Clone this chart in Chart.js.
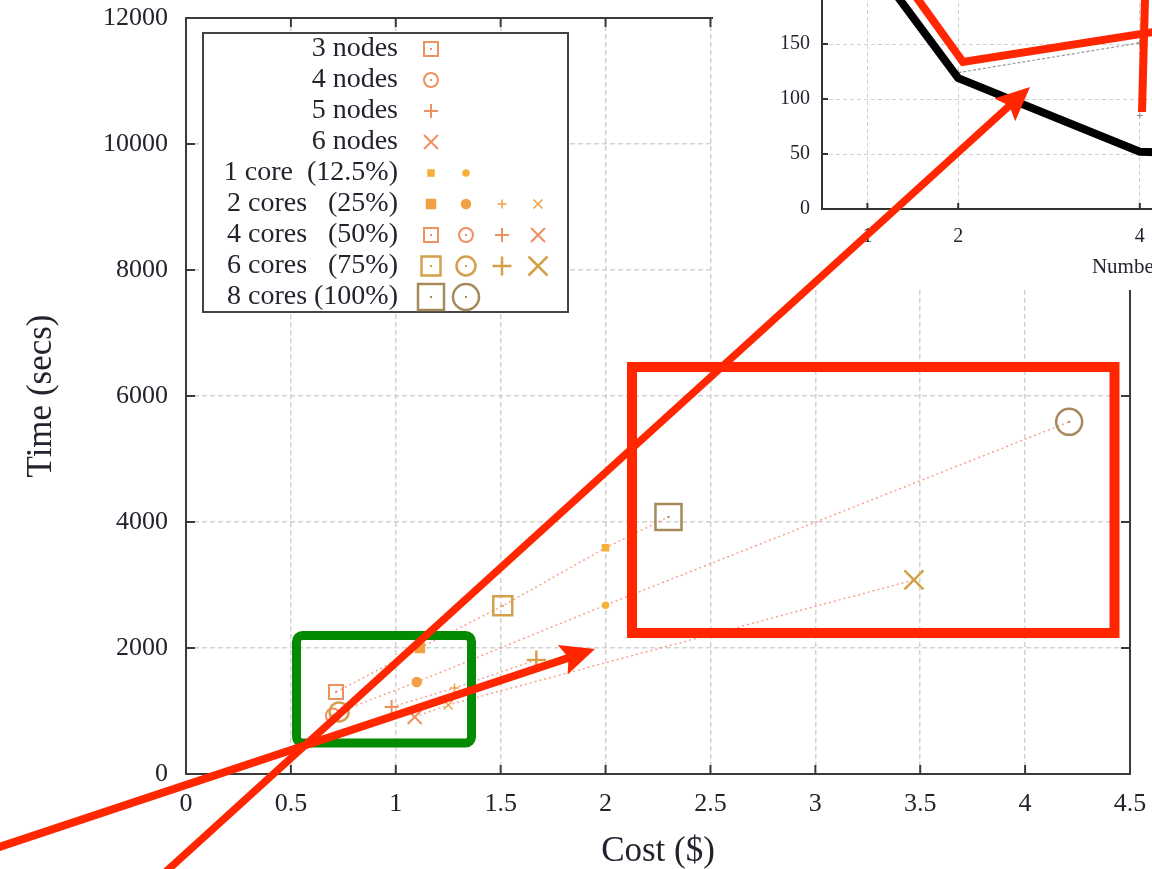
<!DOCTYPE html>
<html>
<head>
<meta charset="utf-8">
<script src="https://cdn.jsdelivr.net/npm/chart.js@4/dist/chart.umd.min.js"></script>
<style>
  html, body { margin: 0; padding: 0; background: #fff; }
  #stage { position: relative; width: 1152px; height: 869px; overflow: hidden; background: #fff; }
  #main { position: absolute; left: 0; top: 0; }
  #inset { position: absolute; left: 713px; top: -60px; background: #fff; }
  #marks { position: absolute; left: 0; top: 0; pointer-events: none; }
</style>
</head>
<body>
<div id="stage">
  <canvas id="main" width="1152" height="869"></canvas>
  <canvas id="inset" width="800" height="350"></canvas>
  <canvas id="marks" width="1152" height="869"></canvas>
</div>
<script>
// ---------- main plot: cost vs. run time, one series per node count ----------
const costTicks = [0, 0.5, 1, 1.5, 2, 2.5, 3, 3.5, 4, 4.5];
const timeTicks = [0, 2000, 4000, 6000, 8000, 10000, 12000];

const nodeCounts = [3, 4, 5, 6];
const coreCounts = [1, 2, 4, 6, 8];
const coreLabels = ['1 core  (12.5%)', '2 cores   (25%)', '4 cores   (50%)', '6 cores   (75%)', '8 cores (100%)'];

const nodes3Cost  = [0.715, 1.115, 1.51, 2.0, 2.30];
const nodes3Time  = [1300, 2000, 2670, 3590, 4080];
const nodes3Cores = [4, 2, 6, 1, 8];

const nodes4Cost  = [0.70, 0.73, 1.10, 2.0, 4.21];
const nodes4Time  = [930, 985, 1460, 2680, 5590];
const nodes4Cores = [4, 6, 2, 1, 8];

const nodes5Cost  = [0.98, 1.28, 1.67];
const nodes5Time  = [1063, 1365, 1810];
const nodes5Cores = [4, 2, 6];

const nodes6Cost  = [1.09, 1.25, 3.47];
const nodes6Time  = [905, 1095, 3080];
const nodes6Cores = [4, 2, 6];

// ---------- inset: time vs. number of cores ----------
const insetTicksX = [1, 2, 4, 6, 8];
const insetTicksY = [0, 50, 100, 150, 200];
const insetCoresA = [1, 2, 4, 6];
const insetTimeA  = [230, 119, 52, 47];
const insetCoresB = [2, 4];
const insetTimeB  = [124, 151];
const insetCoresC = [4];
const insetTimeC  = [85];

// ---------- marker styling ----------
const shapeOf = { 3: 'rect', 4: 'circle', 5: 'cross', 6: 'crossRot' };
const coreColor = { 1: '#f5b03a', 2: '#f1a044', 4: '#ee9160', 6: '#d5a04c', 8: '#a78a5c' };
const coreSize = { 1: 6, 2: 9, 4: 14, 6: 19, 8: 26 };
const shapeFactor = { rect: 1 / Math.SQRT2, circle: 0.5, cross: 0.5, crossRot: 1 / Math.SQRT2 };

const seriesCores = { 3: nodes3Cores, 4: nodes4Cores, 5: nodes5Cores, 6: nodes6Cores };

function markerRadius(style, cores) { return coreSize[cores] * shapeFactor[style]; }
function markerWidth(cores) { return cores <= 2 ? 1.5 : (cores >= 6 ? 2.5 : 2); }
function markerFill(cores) { return cores <= 2 ? coreColor[cores] : 'rgba(0,0,0,0)'; }

function series(n, cost, time, cores) {
  const pts = cost.map((c, i) => ({ x: c, y: time[i], cores: cores[i] })).sort((a, b) => a.x - b.x);
  const st = shapeOf[n];
  const rad = ctx => ctx.raw ? markerRadius(st, ctx.raw.cores) : 5;
  return {
    label: n + ' nodes',
    data: pts,
    showLine: true,
    borderColor: 'rgba(244,132,100,0.75)',
    borderWidth: 1.5,
    borderDash: [2, 3],
    pointStyle: st,
    pointRadius: rad,
    pointHoverRadius: rad,
    pointBorderColor: ctx => ctx.raw ? coreColor[ctx.raw.cores] : '#e90',
    pointBackgroundColor: ctx => ctx.raw ? markerFill(ctx.raw.cores) : 'rgba(0,0,0,0)',
    pointBorderWidth: ctx => ctx.raw ? markerWidth(ctx.raw.cores) : 2
  };
}

function drawMarker(ctx, n, c, x, y) {
  const st = shapeOf[n];
  ctx.save();
  ctx.strokeStyle = coreColor[c];
  ctx.fillStyle = markerFill(c);
  ctx.lineWidth = markerWidth(c);
  Chart.helpers.drawPoint(ctx, { pointStyle: st, radius: markerRadius(st, c), borderWidth: markerWidth(c), rotation: 0 }, x, y);
  if ((st === 'rect' || st === 'circle') && c >= 4) {
    ctx.fillStyle = coreColor[c];
    ctx.fillRect(x - 1, y - 1, 2, 2);
  }
  ctx.restore();
}

// scales keep their boxes exactly as fitted, with no extra edge padding
function noEdgePadding(s) {
  s.paddingTop = 0; s.paddingBottom = 0; s.paddingLeft = 0; s.paddingRight = 0;
}

// border box with inward tick marks on all four sides
const framePlugin = {
  id: 'frame',
  beforeDatasetsDraw(chart, args, o) {
    const { ctx, chartArea: a, scales } = chart;
    ctx.save();
    ctx.strokeStyle = o.color;
    ctx.lineWidth = o.width;
    ctx.strokeRect(a.left, a.top, a.right - a.left, a.bottom - a.top);
    ctx.beginPath();
    scales.x.ticks.forEach(t => {
      const px = scales.x.getPixelForValue(t.value);
      ctx.moveTo(px, a.bottom); ctx.lineTo(px, a.bottom - o.tick);
      ctx.moveTo(px, a.top); ctx.lineTo(px, a.top + o.tick);
    });
    scales.y.ticks.forEach(t => {
      const py = scales.y.getPixelForValue(t.value);
      ctx.moveTo(a.left, py); ctx.lineTo(a.left + o.tick, py);
      ctx.moveTo(a.right, py); ctx.lineTo(a.right - o.tick, py);
    });
    ctx.stroke();
    ctx.restore();
  }
};

// centre dots of the open squares and circles
const dotPlugin = {
  id: 'centreDots',
  afterDatasetsDraw(chart) {
    const ctx = chart.ctx;
    chart.data.datasets.forEach((ds, di) => {
      if (ds.pointStyle !== 'rect' && ds.pointStyle !== 'circle') return;
      chart.getDatasetMeta(di).data.forEach((el, i) => {
        const c = ds.data[i].cores;
        if (c < 4) return;
        ctx.fillStyle = coreColor[c];
        ctx.fillRect(el.x - 1, el.y - 1, 2, 2);
      });
    });
  }
};

// key box: node shapes, then core-count sizes
const keyPlugin = {
  id: 'keyBox',
  afterDatasetsDraw(chart, args, o) {
    const { ctx, chartArea: a } = chart;
    const bx = a.left + o.left, by = a.top + o.top;
    ctx.save();
    ctx.fillStyle = '#fff';
    ctx.fillRect(bx, by, o.width, o.height);
    ctx.strokeStyle = '#444';
    ctx.lineWidth = 2;
    ctx.strokeRect(bx, by, o.width, o.height);
    const rows = [];
    nodeCounts.forEach(n => rows.push({ text: n + ' nodes', marks: [{ n, c: 4, col: 0 }] }));
    coreCounts.forEach((c, i) => rows.push({
      text: coreLabels[i],
      marks: nodeCounts.filter(n => seriesCores[n].includes(c)).map(n => ({ n, c, col: nodeCounts.indexOf(n) }))
    }));
    ctx.font = o.font;
    ctx.textAlign = 'right';
    ctx.textBaseline = 'middle';
    rows.forEach((r, i) => {
      const yy = a.top + o.firstRow + i * o.rowStep;
      ctx.fillStyle = '#23232e';
      ctx.fillText(r.text, a.left + o.textRight, yy);
      r.marks.forEach(m => drawMarker(ctx, m.n, m.c, a.left + o.cols[m.col], yy));
    });
    ctx.restore();
  }
};

const serif = 'Liberation Serif';
const gridStyle = { color: '#d2d2d2', lineWidth: 1.5, drawTicks: false };

new Chart(document.getElementById('main'), {
  type: 'scatter',
  data: {
    datasets: [
      series(3, nodes3Cost, nodes3Time, nodes3Cores),
      series(4, nodes4Cost, nodes4Time, nodes4Cores),
      series(5, nodes5Cost, nodes5Time, nodes5Cores),
      series(6, nodes6Cost, nodes6Time, nodes6Cores)
    ]
  },
  plugins: [framePlugin, dotPlugin, keyPlugin],
  options: {
    responsive: false,
    animation: false,
    events: [],
    layout: { autoPadding: false, padding: { top: 18, right: 22, left: 0, bottom: 0 } },
    plugins: {
      legend: { display: false },
      tooltip: { enabled: false },
      frame: { color: '#3a3a3a', width: 2, tick: 9 },
      keyBox: {
        left: 17, top: 15, width: 365, height: 279,
        font: '28px "' + serif + '"',
        textRight: 212, firstRow: 31, rowStep: 31,
        cols: [245, 280, 316, 352]
      }
    },
    scales: {
      x: {
        type: 'linear', min: 0, max: 4.5,
        afterBuildTicks: s => { s.ticks = costTicks.map(v => ({ value: v })); },
        afterFit: s => { s.height = 95; noEdgePadding(s); },
        ticks: { font: { family: serif, size: 26 }, color: '#23232e', padding: 15, maxRotation: 0, callback: v => String(v) },
        grid: gridStyle,
        border: { display: false, dash: [5, 3] },
        title: { display: true, text: 'Cost ($)', color: '#23232e', font: { family: serif, size: 35, lineHeight: 1 }, padding: { top: 0, bottom: 0 } }
      },
      y: {
        type: 'linear', min: 0, max: 12000,
        afterBuildTicks: s => { s.ticks = timeTicks.map(v => ({ value: v })); },
        afterFit: s => { s.width = 186; noEdgePadding(s); },
        ticks: { font: { family: serif, size: 26 }, color: '#23232e', padding: 18, callback: v => String(v) },
        grid: gridStyle,
        border: { display: false, dash: [5, 3] },
        title: { display: true, text: 'Time (secs)', color: '#23232e', font: { family: serif, size: 35, lineHeight: 1 }, padding: { top: 24, bottom: 0 } }
      }
    }
  }
});

new Chart(document.getElementById('inset'), {
  type: 'scatter',
  data: {
    datasets: [
      {
        data: insetCoresA.map((x, i) => ({ x, y: insetTimeA[i] })),
        showLine: true, borderColor: '#000', borderWidth: 8,
        borderJoinStyle: 'round', borderCapStyle: 'round', pointRadius: 0
      },
      {
        data: insetCoresB.map((x, i) => ({ x, y: insetTimeB[i] })),
        showLine: true, borderColor: '#9a9a9a', borderWidth: 1.2, borderDash: [3, 2],
        pointStyle: 'cross', pointRadius: 3, pointBorderColor: '#888', pointBorderWidth: 1
      },
      {
        data: insetCoresC.map((x, i) => ({ x, y: insetTimeC[i] })),
        showLine: false, pointStyle: 'cross', pointRadius: 3, pointBorderColor: '#888', pointBorderWidth: 1
      }
    ]
  },
  plugins: [framePlugin],
  options: {
    responsive: false,
    animation: false,
    events: [],
    layout: { autoPadding: false, padding: { top: 49, right: 10, left: 0, bottom: 0 } },
    plugins: {
      legend: { display: false },
      tooltip: { enabled: false },
      frame: { color: '#333', width: 2, tick: 6 }
    },
    scales: {
      x: {
        type: 'linear', min: 0.5, max: 8,
        afterBuildTicks: s => { s.ticks = insetTicksX.map(v => ({ value: v })); },
        afterFit: s => { s.height = 81; noEdgePadding(s); },
        ticks: { font: { family: serif, size: 20 }, color: '#23232e', padding: 16, maxRotation: 0, callback: v => String(v) },
        grid: { color: '#d0d0d0', lineWidth: 1, drawTicks: false },
        border: { display: false, dash: [4, 3] },
        title: { display: true, text: 'Number of cores', color: '#23232e', font: { family: serif, size: 21, lineHeight: 1 }, padding: { top: 0, bottom: 12 } }
      },
      y: {
        type: 'linear', min: 0, max: 200,
        afterBuildTicks: s => { s.ticks = insetTicksY.map(v => ({ value: v })); },
        afterFit: s => { s.width = 109; noEdgePadding(s); },
        ticks: { font: { family: serif, size: 20 }, color: '#23232e', padding: 12, callback: v => String(v) },
        grid: { color: '#d0d0d0', lineWidth: 1, drawTicks: false },
        border: { display: false, dash: [4, 3] }
      }
    }
  }
});

// ---------- highlight boxes and arrows drawn over both plots ----------
(function () {
  const g = document.getElementById('marks').getContext('2d');
  const red = '#ff2600', green = '#038c03';

  function arrow(x1, y1, x2, y2, w, len, half) {
    const a = Math.atan2(y2 - y1, x2 - x1), c = Math.cos(a), s = Math.sin(a);
    const bx = x2 - c * len, by = y2 - s * len;
    const nx = x2 - c * len * 0.82, ny = y2 - s * len * 0.82;
    g.lineWidth = w;
    g.beginPath();
    g.moveTo(x1, y1);
    g.lineTo(x2 - c * len * 0.6, y2 - s * len * 0.6);
    g.stroke();
    g.beginPath();
    g.moveTo(x2, y2);
    g.lineTo(bx - s * half, by + c * half);
    g.lineTo(nx, ny);
    g.lineTo(bx + s * half, by - c * half);
    g.closePath();
    g.fill();
  }

  function roundBox(x, y, w, h, r) {
    g.beginPath();
    g.moveTo(x + r, y);
    g.lineTo(x + w - r, y); g.arcTo(x + w, y, x + w, y + r, r);
    g.lineTo(x + w, y + h - r); g.arcTo(x + w, y + h, x + w - r, y + h, r);
    g.lineTo(x + r, y + h); g.arcTo(x, y + h, x, y + h - r, r);
    g.lineTo(x, y + r); g.arcTo(x, y, x + r, y, r);
    g.closePath();
    g.stroke();
  }

  g.lineCap = 'butt';
  g.lineJoin = 'miter';

  g.strokeStyle = green;
  g.lineWidth = 9;
  roundBox(296.5, 635.5, 175, 107.5, 6);

  g.strokeStyle = red;
  g.fillStyle = red;
  g.lineWidth = 10;
  g.strokeRect(632, 367, 482.5, 266);

  g.lineWidth = 8;
  g.beginPath();
  g.moveTo(914, -6);
  g.lineTo(963, 62);
  g.lineTo(1160, 31);
  g.stroke();
  g.beginPath();
  g.moveTo(1145, -2);
  g.lineTo(1142, 112);
  g.stroke();

  arrow(160, 877, 1030, 87, 7.5, 34, 15.5);
  arrow(-4, 848, 595, 649, 8, 34, 15.5);
})();
</script>
</body>
</html>
